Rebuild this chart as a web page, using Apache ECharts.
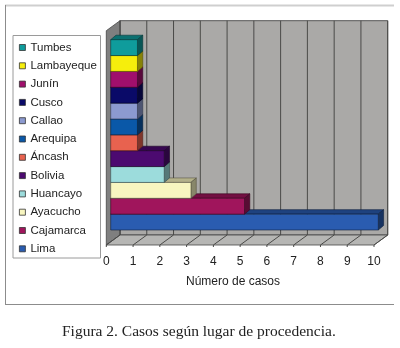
<!DOCTYPE html>
<html><head><meta charset="utf-8">
<style>html,body{margin:0;padding:0;background:#fff}#c{width:400px;height:348px}</style>
<script src="https://cdn.jsdelivr.net/npm/echarts@6/dist/echarts.min.js"></script>
</head><body><div id="c"></div>
<script>
const categories = ['Lima','Cajamarca','Ayacucho','Huancayo','Bolivia','Áncash','Arequipa','Callao','Cusco','Junín','Lambayeque','Tumbes'];
const cases = [10,5,3,2,2,1,1,1,1,1,1,1];
const colors = ['#2a5cb0','#a0155c','#f8f6c0','#9cdcdc','#4c0a70','#e8624f','#0a58a8','#8c9ad0','#0a0a68','#a00f6c','#f6ee0c','#0f9c9c'];
const xTicks = [0,1,2,3,4,5,6,7,8,9,10];
const axisTitle = 'Número de casos';
const caption = 'Figura 2. Casos según lugar de procedencia.';

function shade(hex, f){
  const n = parseInt(hex.slice(1),16);
  const c = [n>>16,(n>>8)&255,n&255].map(v=>Math.round(v*f));
  return 'rgb('+c.join(',')+')';
}
const barDX = 5.3, barDY = 4.5, wallDX = 13.7, wallDY = 10;

function cuboid(color){
  return function(params, api){
    const a = api.coord([0, api.value(1)]);
    const b = api.coord([api.value(0), api.value(1)]);
    const h = api.size([0,1])[1];
    const x0 = a[0], x1 = b[0], y0 = a[1]-h/2, y1 = a[1]+h/2;
    const line = {stroke:shade(color,0.35), lineWidth:0.6};
    return {type:'group', children:[
      {type:'polygon', shape:{points:[[x0,y0],[x0+barDX,y0-barDY],[x1+barDX,y0-barDY],[x1,y0]]},
        style:Object.assign({fill:shade(color,0.72)},line)},
      {type:'polygon', shape:{points:[[x1,y0],[x1+barDX,y0-barDY],[x1+barDX,y1-barDY],[x1,y1]]},
        style:Object.assign({fill:shade(color,0.55)},line)},
      {type:'rect', shape:{x:x0,y:y0,width:x1-x0,height:y1-y0},
        style:Object.assign({fill:color},line)}
    ]};
  };
}
function wallItem(params, api){
  const f0 = api.coord([0,0]), f1 = api.coord([10,0]), t0 = api.coord([0,1]);
  const bx0=f0[0]+wallDX, bx1=f1[0]+wallDX, by0=f0[1]-wallDY, by1=t0[1]-wallDY;
  return {type:'group', children:[
    {type:'rect', shape:{x:bx0,y:by1,width:bx1-bx0,height:by0-by1}, style:{fill:'#aaa9a7',stroke:'#555',lineWidth:1}},
    {type:'polygon', shape:{points:[[f0[0],t0[1]],[bx0,by1],[bx0,by0],[f0[0],f0[1]]]}, style:{fill:'#7f7f7f',stroke:'#444',lineWidth:0.8}},
    {type:'polygon', shape:{points:[[f0[0],f0[1]],[bx0,by0],[bx1,by0],[f1[0],f1[1]]]}, style:{fill:'#b6b6b4',stroke:'#444',lineWidth:0.8}}
  ]};
}
function tickItem(params, api){
  const p = api.coord([api.value(0),0]), t = api.coord([api.value(0),1]);
  const s = {stroke:'#4a4a48',lineWidth:1};
  return {type:'group', children:[
    {type:'line', shape:{x1:p[0]+wallDX,y1:t[1]-wallDY,x2:p[0]+wallDX,y2:p[1]-wallDY}, style:s},
    {type:'line', shape:{x1:p[0]+wallDX,y1:p[1]-wallDY,x2:p[0],y2:p[1]}, style:s},
    {type:'line', shape:{x1:p[0],y1:p[1],x2:p[0],y2:p[1]+2}, style:s}
  ]};
}
const barSeries = categories.map((name,i)=>({
  type:'custom', name, coordinateSystem:'cartesian2d', xAxisIndex:1, yAxisIndex:1,
  itemStyle:{color:colors[i]}, encode:{x:0,y:1}, silent:true, clip:false, z:5,
  renderItem:cuboid(colors[i]), data:[[cases[i],name]]
}));

const chart = echarts.init(document.getElementById('c'),null,{renderer:'canvas'});
chart.setOption({
  animation:false,
  backgroundColor:'#fff',
  textStyle:{fontFamily:'Liberation Sans'},
  title:[
    {text:axisTitle,left:186,top:276,padding:0,textStyle:{fontSize:12,fontWeight:'normal',color:'#222',fontFamily:'Liberation Sans'}},
    {text:caption,left:62,top:324,padding:0,textStyle:{fontSize:15.5,fontWeight:'normal',color:'#222',fontFamily:'Liberation Serif'}}
  ],
  graphic:[
    {type:'line',z:0,shape:{x1:5,y1:5.5,x2:394,y2:5.5},style:{stroke:'#cfcfcf',lineWidth:2}},
    {type:'line',z:0,shape:{x1:5.5,y1:5,x2:5.5,y2:305},style:{stroke:'#8c8c8c',lineWidth:1}},
    {type:'line',z:0,shape:{x1:5,y1:304.5,x2:394,y2:304.5},style:{stroke:'#8c8c8c',lineWidth:1}},
    {type:'rect',z:0,shape:{x:13,y:35.5,width:87.5,height:222.5},style:{fill:'#fff',stroke:'#9a9a9a',lineWidth:1}}
  ],
  legend:{
    orient:'vertical',left:19,top:41.5,padding:0,itemWidth:6,itemHeight:6,itemGap:6.3,
    icon:'rect',selectedMode:false,
    data:categories.slice().reverse(),
    itemStyle:{borderColor:'#333',borderWidth:0.8},
    textStyle:{fontSize:11.5,lineHeight:12,color:'#222',fontFamily:'Liberation Sans'}
  },
  grid:[
    {left:106.3,right:26,top:30.7,bottom:103},
    {left:110.7,right:21.7,top:39.7,bottom:118}
  ],
  xAxis:[
    {type:'value',gridIndex:0,min:0,max:10,interval:1,splitLine:{show:false},axisLine:{show:false},axisTick:{show:false},
     axisLabel:{margin:11,fontSize:12,color:'#222',fontFamily:'Liberation Sans',formatter:v=>String(v)}},
    {type:'value',gridIndex:1,min:0,max:10,show:false}
  ],
  yAxis:[
    {type:'value',gridIndex:0,min:0,max:1,show:false},
    {type:'category',gridIndex:1,data:categories,show:false}
  ],
  series:[
    {type:'custom',coordinateSystem:'cartesian2d',xAxisIndex:0,yAxisIndex:0,silent:true,clip:false,z:1,renderItem:wallItem,data:[[0,0]]},
    {type:'custom',coordinateSystem:'cartesian2d',xAxisIndex:0,yAxisIndex:0,silent:true,clip:false,z:2,renderItem:tickItem,data:xTicks.map(v=>[v,0])}
  ].concat(barSeries)
});
</script></body></html>
